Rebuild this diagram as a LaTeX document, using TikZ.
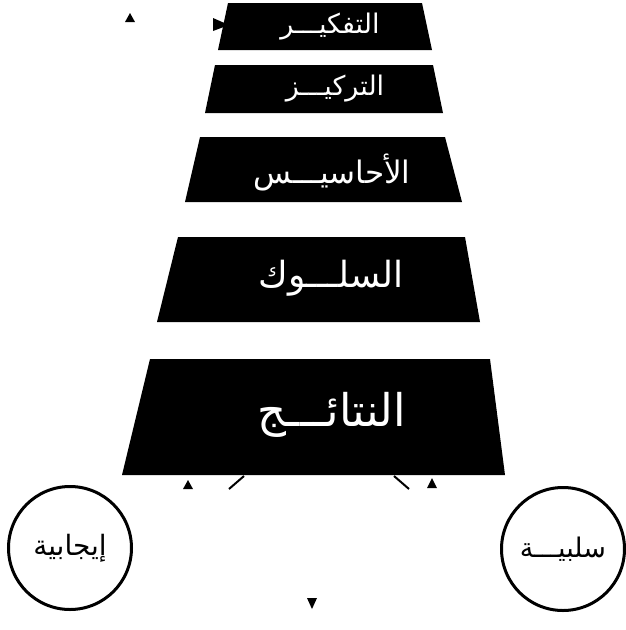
\documentclass[tikz,border=0pt]{standalone}
\usepackage{fontspec}
\newfontfamily\arabicfont[Script=Arabic]{DejaVu Sans}
\TeXXeTstate=1
\begin{document}
\begin{tikzpicture}[x=1pt,y=-1pt,
  trap/.style={fill=black},
  lbl/.style={text=white,font=\arabicfont,inner sep=0pt,anchor=center},
  circ/.style={draw=black,line width=3pt,circle,minimum size=123pt,inner sep=0pt},
  tri/.style={fill=black},
  link/.style={draw=black,line width=2pt}]
\useasboundingbox (0,0) rectangle (626,630);
% trapezoids
\fill[trap] (228,3) -- (422,3) -- (432,50) -- (218,50) -- cycle;
\fill[trap] (215,65) -- (433,65) -- (443,113) -- (205,113) -- cycle;
\fill[trap] (200,137) -- (445,137) -- (462,202) -- (185,202) -- cycle;
\fill[trap] (178,237) -- (465,237) -- (480,322) -- (157,322) -- cycle;
\fill[trap] (150,359) -- (490,359) -- (505,475) -- (122,475) -- cycle;
% labels
\node[lbl,font=\arabicfont\fontsize{27}{29}\selectfont] (t1) at (330,27) {\beginR التفكيـــر\endR};
\node[lbl,font=\arabicfont\fontsize{27}{29}\selectfont] (t2) at (335,89) {\beginR التركيـــز\endR};
\node[lbl,font=\arabicfont\fontsize{31}{33}\selectfont] (t3) at (332,172) {\beginR الأحاسيـــس\endR};
\node[lbl,font=\arabicfont\fontsize{36}{38}\selectfont] (t4) at (331,278) {\beginR السلـــوك\endR};
\node[lbl,font=\arabicfont\fontsize{45}{47}\selectfont] (t5) at (332,415) {\beginR النتائـــج\endR};
% circles
\node[circ,font=\arabicfont\fontsize{28}{30}\selectfont] (pos) at (70,548) {\beginR إيجابية\endR};
\node[circ,font=\arabicfont\fontsize{27}{29}\selectfont] (neg) at (563,549) {\beginR سلبيـــة\endR};
% short links under the last box
\coordinate (l1) at (244,476);
\coordinate (l2) at (229,489);
\coordinate (r1) at (394,476);
\coordinate (r2) at (409,489);
\draw[link] (l1) -- (l2);
\draw[link] (r1) -- (r2);
% arrowheads
\fill[tri] (125,22) -- (130,13) -- (135,22) -- cycle;
\fill[tri] (213,18) -- (229,25) -- (213,31) -- cycle;
\fill[tri] (183,489) -- (188,480) -- (193,489) -- cycle;
\fill[tri] (427,488) -- (432,478) -- (437,488) -- cycle;
\fill[tri] (307,598) -- (317,598) -- (312,609) -- cycle;
\end{tikzpicture}
\end{document}
